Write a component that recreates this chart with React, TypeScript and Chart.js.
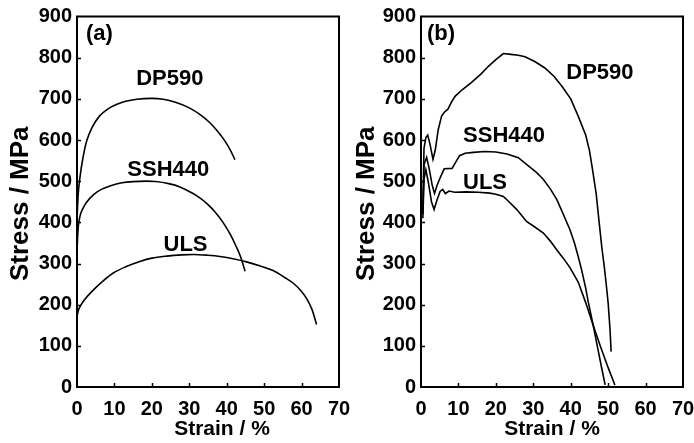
import React, { useEffect, useRef } from "react";
import { Chart, registerables } from "chart.js";

Chart.register(...registerables);

type Pt = [number, number];

// Tick values
const xTickValues = [0, 10, 20, 30, 40, 50, 60, 70];
const yTickValues = [0, 100, 200, 300, 400, 500, 600, 700, 800, 900];

// Panel (a) — strain (%), stress (MPa)
const dp590A: Pt[] = [
  [0, 405], [0.3, 465], [0.8, 510], [1.5, 552], [2.6, 598], [4, 630], [6, 658], [8, 674],
  [10.5, 686], [13, 694], [16, 699], [20, 701], [23, 699], [26.5, 691], [30, 678], [33, 661],
  [35.5, 642], [37.5, 622], [39.5, 598], [41, 575], [42.2, 552],
];
const ssh440A: Pt[] = [
  [0, 330], [0.3, 385], [0.8, 415], [1.5, 432], [2.5, 448], [4.5, 468], [6.5, 480], [9, 489],
  [12, 496], [15, 499], [18.5, 500], [21, 499], [24.5, 494], [27.5, 486], [31, 470], [33, 458],
  [35, 443], [37, 424], [39, 400], [41, 370], [42.5, 342], [43.8, 314], [44.9, 281],
];
const ulsA: Pt[] = [
  [0, 172], [0.4, 187], [0.8, 195], [2, 212], [4.4, 236], [7, 258], [9.7, 277], [13, 292],
  [16.8, 305], [20, 313], [24, 318], [28, 321], [31.1, 322], [35, 320], [38.2, 317], [42, 311],
  [45.3, 304], [49, 294], [52.4, 283], [55.5, 266], [57.8, 252], [60, 232], [61.4, 214],
  [62.8, 188], [64, 152],
];

// Panel (b)
const dp590B: Pt[] = [
  [0.5, 430], [0.8, 580], [1.3, 606], [1.8, 612], [2.4, 590], [3.2, 553], [3.8, 575], [4.6, 625],
  [5.5, 658], [6.3, 668], [7.2, 675], [8.2, 693], [9.1, 706], [11, 722], [13.5, 740], [16, 760],
  [18, 779], [20, 795], [22, 810], [24, 808], [26, 806], [27.8, 802], [30.5, 790], [33.1, 775],
  [35.5, 755], [37.6, 731], [40, 700], [42, 658], [44, 612], [45, 575], [45.8, 530], [46.8, 470],
  [47.6, 400], [48.3, 340], [49, 290], [49.6, 240], [50, 204], [50.5, 140], [50.8, 86],
];
const ssh440B: Pt[] = [
  [0.5, 420], [0.8, 540], [1.5, 558], [2.2, 530], [3.0, 490], [3.6, 470], [4.3, 490], [5.2, 510],
  [6.2, 530], [8.3, 531], [9.2, 545], [10.3, 562], [11.8, 568], [14, 570], [17, 572], [20, 571],
  [23, 566], [26, 557], [29.1, 534], [31, 520], [32.7, 504], [34.5, 482], [36.3, 455], [38, 420],
  [39.8, 382], [41, 350], [42, 317], [42.9, 285], [44, 240], [44.7, 206], [46, 150], [47.2, 95],
  [48.3, 45], [49.2, 5],
];
const ulsB: Pt[] = [
  [0.5, 410], [0.8, 505], [1.3, 528], [2.0, 495], [2.8, 450], [3.5, 431], [4.3, 455], [5.1, 475],
  [5.8, 480], [6.5, 470], [7.5, 476], [9, 473], [12, 474], [15.3, 473], [18.4, 471], [20, 468],
  [22, 463], [23.5, 450], [25.6, 431], [28.2, 402], [30.5, 388], [32.7, 374], [34.5, 355],
  [36.3, 333], [38, 313], [39.8, 290], [42, 255], [44, 205], [46, 150], [48, 97], [50, 47],
  [51.8, 5],
];

// In-plot annotations (data coordinates)
type Label = { text: string; x: number; y: number; align: CanvasTextAlign };
const labelsA: Label[] = [
  { text: "(a)", x: 2.4, y: 858, align: "left" },
  { text: "DP590", x: 24.8, y: 748, align: "center" },
  { text: "SSH440", x: 24.4, y: 528, align: "center" },
  { text: "ULS", x: 29, y: 345, align: "center" },
];
const labelsB: Label[] = [
  { text: "(b)", x: 1.6, y: 858, align: "left" },
  { text: "DP590", x: 47.8, y: 762, align: "center" },
  { text: "SSH440", x: 22.2, y: 611, align: "center" },
  { text: "ULS", x: 17.1, y: 495, align: "center" },
];

const X_TITLE = "Strain / %";
const Y_TITLE = "Stress / MPa";
const FAMILY = '"Liberation Sans", Arial, Helvetica, sans-serif';

type PanelProps = {
  series: { name: string; points: Pt[]; smooth: boolean }[];
  labels: Label[];
  left: number;
  width: number;
  yAxisWidth: number;
  padRight: number;
  xTitleShift: number;
  yTitleX: number;
};

function Panel(p: PanelProps) {
  const ref = useRef<HTMLCanvasElement>(null);
  useEffect(() => {
    const framePlugin = {
      id: "frame",
      afterDraw(chart: any) {
        const { ctx, chartArea } = chart;
        const { left, top, right, bottom } = chartArea;
        const xs = chart.scales.x;
        const ys = chart.scales.y;
        ctx.save();
        ctx.strokeStyle = "#000";
        ctx.lineWidth = 2;
        ctx.strokeRect(left, top, right - left, bottom - top);
        ctx.lineWidth = 1.5;
        ctx.beginPath();
        xTickValues.slice(1, -1).forEach((v) => {
          const px = Math.round(xs.getPixelForValue(v)) + 0.5;
          ctx.moveTo(px, bottom);
          ctx.lineTo(px, bottom - 4);
        });
        yTickValues.slice(1, -1).forEach((v) => {
          const py = Math.round(ys.getPixelForValue(v)) + 0.5;
          ctx.moveTo(left, py);
          ctx.lineTo(left + 4, py);
        });
        ctx.stroke();
        ctx.fillStyle = "#000";
        ctx.font = `bold 22px ${FAMILY}`;
        ctx.textBaseline = "middle";
        p.labels.forEach((l) => {
          ctx.textAlign = l.align;
          ctx.fillText(l.text, xs.getPixelForValue(l.x), ys.getPixelForValue(l.y));
        });
        ctx.font = `bold 21px ${FAMILY}`;
        ctx.textAlign = "center";
        ctx.textBaseline = "alphabetic";
        ctx.fillText(X_TITLE, (left + right) / 2 + p.xTitleShift, 435);
        ctx.font = `bold 26px ${FAMILY}`;
        ctx.translate(p.yTitleX, (top + bottom) / 2 + 2);
        ctx.rotate(-Math.PI / 2);
        ctx.fillText(Y_TITLE, 0, 0);
        ctx.restore();
      },
    };
    const tickFont = { family: FAMILY, size: 20, weight: "bold" as const };
    const chart = new Chart(ref.current!, {
      type: "line",
      data: {
        datasets: p.series.map((s) => ({
          label: s.name,
          data: s.points.map(([x, y]) => ({ x, y })),
          borderColor: "#000",
          borderWidth: 1.6,
          pointRadius: 0,
          fill: false,
          tension: s.smooth ? 0.4 : 0,
          cubicInterpolationMode: s.smooth ? ("monotone" as const) : ("default" as const),
        })),
      },
      options: {
        animation: false,
        responsive: false,
        devicePixelRatio: 1,
        layout: { padding: { left: 0, right: p.padRight, top: 16.5, bottom: 0 } },
        plugins: { legend: { display: false }, tooltip: { enabled: false } },
        scales: {
          x: {
            type: "linear",
            min: 0,
            max: 70,
            afterBuildTicks: (s: any) => {
              s.ticks = xTickValues.map((v) => ({ value: v }));
            },
            afterFit: (s: any) => {
              s.height = 56;
              s.paddingLeft = 0;
              s.paddingRight = 0;
            },
            grid: { display: false, drawTicks: false },
            border: { display: false },
            ticks: { font: tickFont, color: "#000", padding: 10, maxRotation: 0, autoSkip: false },
          },
          y: {
            type: "linear",
            min: 0,
            max: 900,
            afterBuildTicks: (s: any) => {
              s.ticks = yTickValues.map((v) => ({ value: v }));
            },
            afterFit: (s: any) => {
              s.width = p.yAxisWidth;
              s.paddingTop = 0;
              s.paddingBottom = 0;
            },
            grid: { display: false, drawTicks: false },
            border: { display: false },
            ticks: { font: tickFont, color: "#000", padding: 5, autoSkip: false },
          },
        },
      },
      plugins: [framePlugin],
    });
    return () => chart.destroy();
  }, []);
  return (
    <div style={{ position: "absolute", left: p.left, top: 0, width: p.width, height: 443 }}>
      <canvas ref={ref} width={p.width} height={443} style={{ width: p.width, height: 443 }} />
    </div>
  );
}

export default function App() {
  return (
    <div style={{ position: "fixed", left: 0, top: 0, width: 694, height: 443, background: "#fff" }}>
      <Panel
        series={[
          { name: "DP590", points: dp590A, smooth: true },
          { name: "SSH440", points: ssh440A, smooth: true },
          { name: "ULS", points: ulsA, smooth: true },
        ]}
        labels={labelsA}
        left={0}
        width={360}
        yAxisWidth={77}
        padRight={21}
        xTitleShift={14}
        yTitleX={28}
      />
      <Panel
        series={[
          { name: "DP590", points: dp590B, smooth: false },
          { name: "SSH440", points: ssh440B, smooth: false },
          { name: "ULS", points: ulsB, smooth: false },
        ]}
        labels={labelsB}
        left={347}
        width={347}
        yAxisWidth={74}
        padRight={11}
        xTitleShift={0}
        yTitleX={27}
      />
    </div>
  );
}
